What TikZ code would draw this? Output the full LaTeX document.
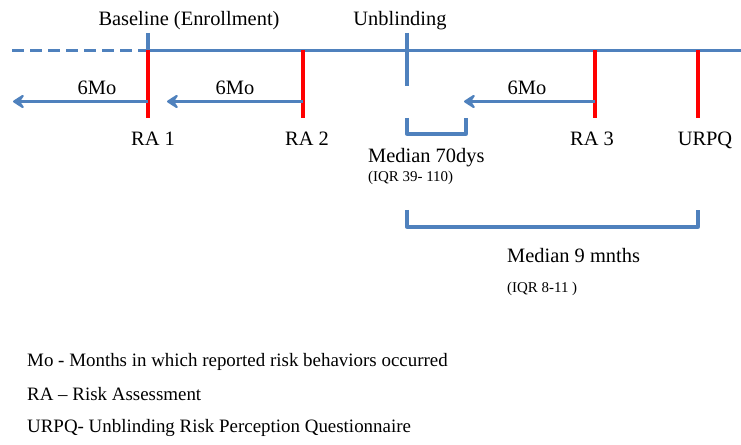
\documentclass[tikz,border=0pt]{standalone}
\usepackage{fontspec}
\setmainfont{Liberation Serif}
\usetikzlibrary{arrows.meta}
\definecolor{tlblue}{HTML}{4F81BD}
\definecolor{tlred}{HTML}{FF0000}
\begin{document}
\begin{tikzpicture}[x=1bp,y=-1bp,
  bline/.style={draw=tlblue,line width=3.3bp},
  rline/.style={draw=tlred,line width=3.3bp},
  barrow/.style={bline,-{Stealth[length=14bp,width=18bp,inset=6bp,round]}},
  lbl/.style={inner sep=0pt,anchor=base,font=\fontsize{20.5}{24}\selectfont},
  lblw/.style={inner sep=0pt,anchor=base west,font=\fontsize{20.5}{24}\selectfont},
  small/.style={inner sep=0pt,anchor=base west,font=\fontsize{15}{18}\selectfont},
  legend/.style={inner sep=0pt,anchor=base west,font=\fontsize{19}{22}\selectfont}]
\useasboundingbox (0,0) rectangle (741,445);
% timeline coordinates
\coordinate (tlL) at (12,50.5);
\coordinate (tlB) at (148,50.5);
\coordinate (tlR) at (741,50.5);
\coordinate (bTop) at (148,33);
\coordinate (bBot) at (148,118);
\coordinate (ra2T) at (303,50.5);
\coordinate (ra2B) at (303,118);
\coordinate (uTop) at (407,33);
\coordinate (uBot) at (407,86);
\coordinate (ra3T) at (595,50.5);
\coordinate (ra3B) at (595,118);
\coordinate (uqT) at (698,50.5);
\coordinate (uqB) at (698,118);
% arrow ends
\coordinate (a1s) at (148,101.5);
\coordinate (a1e) at (13,101.5);
\coordinate (a2s) at (303,101.5);
\coordinate (a2e) at (167,101.5);
\coordinate (a3s) at (595,101.5);
\coordinate (a3e) at (464,101.5);
% brackets
\coordinate (sb1) at (407,118);
\coordinate (sb2) at (407,134);
\coordinate (sb3) at (466,134);
\coordinate (sb4) at (466,118);
\coordinate (bb1) at (407,210);
\coordinate (bb2) at (407,227);
\coordinate (bb3) at (698,227);
\coordinate (bb4) at (698,210);

% main line
\draw[bline,dash pattern=on 12bp off 6bp] (tlL) -- (tlB);
\draw[bline] (tlB) -- (tlR);
% ticks
\draw[bline] (bTop) -- (tlB);
\draw[rline] (tlB) -- (bBot);
\draw[rline] (ra2T) -- (ra2B);
\draw[bline] (uTop) -- (uBot);
\draw[rline] (ra3T) -- (ra3B);
\draw[rline] (uqT) -- (uqB);
% arrows
\draw[barrow] (a1s) -- (a1e);
\draw[barrow] (a2s) -- (a2e);
\draw[barrow] (a3s) -- (a3e);
% brackets
\draw[bline,line join=round] (sb1) -- (sb2) -- (sb3) -- (sb4);
\draw[bline,line join=round] (bb1) -- (bb2) -- (bb3) -- (bb4);

% labels
\node[lbl] (base) at (189,26) {Baseline (Enrollment)};
\node[lbl] (unbl) at (400,26) {Unblinding};
\node[lbl] (m1) at (97,95) {6Mo};
\node[lbl] (m2) at (235,95) {6Mo};
\node[lbl] (m3) at (527,95) {6Mo};
\node[lbl] (ra1) at (153,146) {RA 1};
\node[lbl] (ra2) at (307,146) {RA 2};
\node[lbl] (ra3) at (592,146) {RA 3};
\node[lbl] (urpq) at (705,146) {URPQ};
\node[lblw] (med70) at (368,163) {Median 70dys};
\node[small] (iqr1) at (368,182) {(IQR 39- 110)};
\node[lblw] (med9) at (507,263) {Median 9 mnths};
\node[small] (iqr2) at (507,293) {(IQR 8-11 )};
% legend
\node[legend] (lg1) at (27,367) {Mo - Months in which reported risk behaviors occurred};
\node[legend] (lg2) at (27,400) {RA -- Risk Assessment};
\node[legend] (lg3) at (27,432) {URPQ- Unblinding Risk Perception Questionnaire};
\end{tikzpicture}
\end{document}
